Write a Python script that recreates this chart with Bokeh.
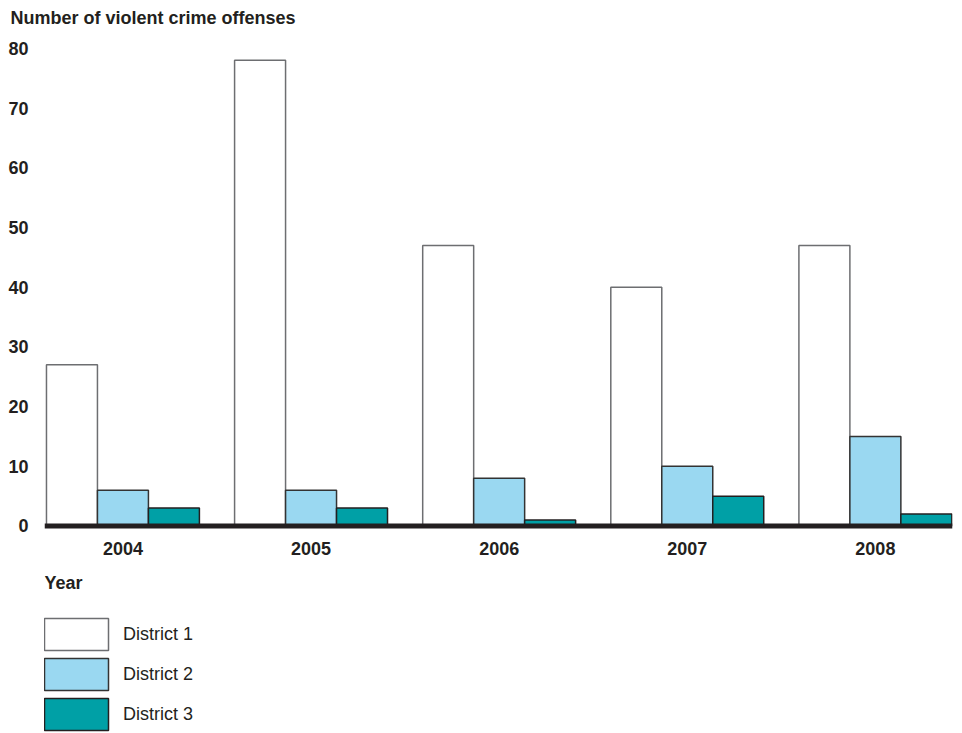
from bokeh.plotting import figure
from bokeh.models import (Range1d, ColumnDataSource, Legend, LegendItem, Label,
                          FixedTicker)
from bokeh.transform import dodge
from bokeh.embed import file_html
from bokeh.resources import INLINE

# ---- data ----
years = [2004, 2005, 2006, 2007, 2008]
district1 = [27, 78, 47, 40, 47]
district2 = [6, 6, 8, 10, 15]
district3 = [3, 3, 1, 5, 2]
series_names = ["District 1", "District 2", "District 3"]
y_ticks = [0, 10, 20, 30, 40, 50, 60, 70, 80]

FONT = "Liberation Sans"
DARK = "#231f20"
FS = "18px"

src = ColumnDataSource(dict(year=years, d1=district1, d2=district2, d3=district3))

x_start, x_end = 2003.583, 2008.41
p = figure(width=962, height=733, output_backend="svg", toolbar_location=None,
           x_range=Range1d(x_start, x_end), y_range=Range1d(-34.76, 82.66),
           min_border_left=44, min_border_right=10, min_border_top=32, min_border_bottom=0)

bw = 0.271
r1 = p.vbar(x=dodge("year", -bw, range=p.x_range), top="d1", width=bw, source=src,
            fill_color="white", line_color="#6d6e71", line_width=1.5)
r2 = p.vbar(x=dodge("year", 0, range=p.x_range), top="d2", width=bw, source=src,
            fill_color="#9ad8f1", line_color="#333333", line_width=1.5)
r3 = p.vbar(x=dodge("year", bw, range=p.x_range), top="d3", width=bw, source=src,
            fill_color="#00a0a6", line_color=DARK, line_width=1.5)

# baseline across the bar area
p.segment(x0=[x_start], y0=[0], x1=[x_end], y1=[0], line_color=DARK, line_width=5)

# axes
p.xgrid.visible = False
p.ygrid.visible = False
p.outline_line_color = None
p.background_fill_color = "white"
p.border_fill_color = "white"

p.yaxis.ticker = FixedTicker(ticks=y_ticks)
p.xaxis.ticker = FixedTicker(ticks=years)
p.xaxis.fixed_location = 0
for ax in (p.xaxis, p.yaxis):
    ax.axis_line_color = None
    ax.major_tick_line_color = None
    ax.minor_tick_line_color = None
    ax.major_tick_out = 0
    ax.major_tick_in = 0
    ax.major_label_text_font = FONT
    ax.major_label_text_font_style = "bold"
    ax.major_label_text_font_size = FS
    ax.major_label_text_color = DARK
p.yaxis.major_label_standoff = 16
p.xaxis.major_label_standoff = 16

# title
p.title.text = "Number of violent crime offenses"
p.title.text_font = FONT
p.title.text_font_style = "bold"
p.title.text_font_size = FS
p.title.text_color = DARK
p.title.align = "left"
p.title.offset = -34

year_label = Label(x=x_start, y=-9.63, text="Year", text_font=FONT, text_font_style="bold",
                   text_font_size=FS, text_color=DARK, text_baseline="middle",
                   text_align="left")
p.add_layout(year_label)

legend = Legend(items=[LegendItem(label=series_names[0], renderers=[r1]),
                       LegendItem(label=series_names[1], renderers=[r2]),
                       LegendItem(label=series_names[2], renderers=[r3])],
                location=(-8, -1), orientation="vertical",
                glyph_width=80, glyph_height=40, spacing=0, padding=0, margin=0,
                label_standoff=7, label_text_font=FONT, label_text_font_size=FS,
                label_text_color=DARK, border_line_color=None, background_fill_alpha=0)
p.add_layout(legend)

open("out.html", "w").write(file_html(p, INLINE))
